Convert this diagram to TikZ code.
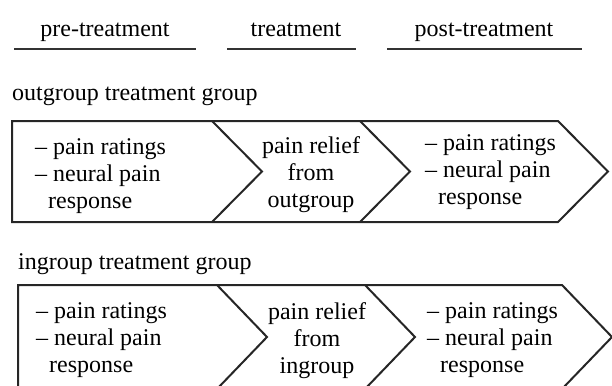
\documentclass[tikz,border=0pt]{standalone}
\usepackage{fontspec}
\setmainfont{Liberation Serif}
\usepackage{tikz}
\usetikzlibrary{positioning}
\tikzstyle{chev} = [draw=black!85, line width=2pt, line join=miter]
\tikzstyle{rule} = [draw=black!80, line width=2.2pt]
\tikzstyle{stage} = [font=\fontsize{24}{27}\selectfont, inner sep=0pt]
\tikzstyle{item} = [stage, align=left, anchor=west]
\tikzstyle{relief} = [stage, align=center]

\begin{document}
\begin{tikzpicture}[x=1pt, y=-1pt]
    \useasboundingbox (0,0) rectangle (612,385);
    \clip (0,0) rectangle (612,385);
    % phases
    \node (pre) [stage, anchor=base] at (105,37) {pre-treatment};
    \node (treat) [stage, anchor=base] at (296,37) {treatment};
    \node (post) [stage, anchor=base] at (484,37) {post-treatment};
    \draw [rule] (14,49) -- (196,49);
    \draw [rule] (227,49) -- (356,49);
    \draw [rule] (387,49) -- (582,49);
    % outgroup row
    \node (outlbl) [stage, anchor=base west] at (12,101) {outgroup treatment group};
    \draw [chev] (12,121) -- (558,121) -- (608,171.5) -- (558,222) -- (12,222) -- cycle;
    \draw [chev] (212,121) -- (262,171.5) -- (212,222);
    \draw [chev] (360,121) -- (410,171.5) -- (360,222);
    \node (outpre) [item] at (35,176) {-- pain ratings\\-- neural pain\\\hspace*{13pt}response};
    \node (outmid) [relief] at (311,175) {pain relief\\from\\outgroup};
    \node (outpost) [item] at (425,172) {-- pain ratings\\-- neural pain\\\hspace*{13pt}response};
    % ingroup row
    \node (inlbl) [stage, anchor=base west] at (18,269) {ingroup treatment group};
    \draw [chev] (18,285) -- (562,285) -- (612,337) -- (562,389) -- (18,389) -- cycle;
    \draw [chev] (217,285) -- (267,337) -- (217,389);
    \draw [chev] (365,285) -- (415,337) -- (365,389);
    \node (inpre) [item] at (36,340) {-- pain ratings\\-- neural pain\\\hspace*{13pt}response};
    \node (inmid) [relief] at (317,341) {pain relief\\from\\ingroup};
    \node (inpost) [item] at (427,340) {-- pain ratings\\-- neural pain\\\hspace*{13pt}response};
\end{tikzpicture}
\end{document}
